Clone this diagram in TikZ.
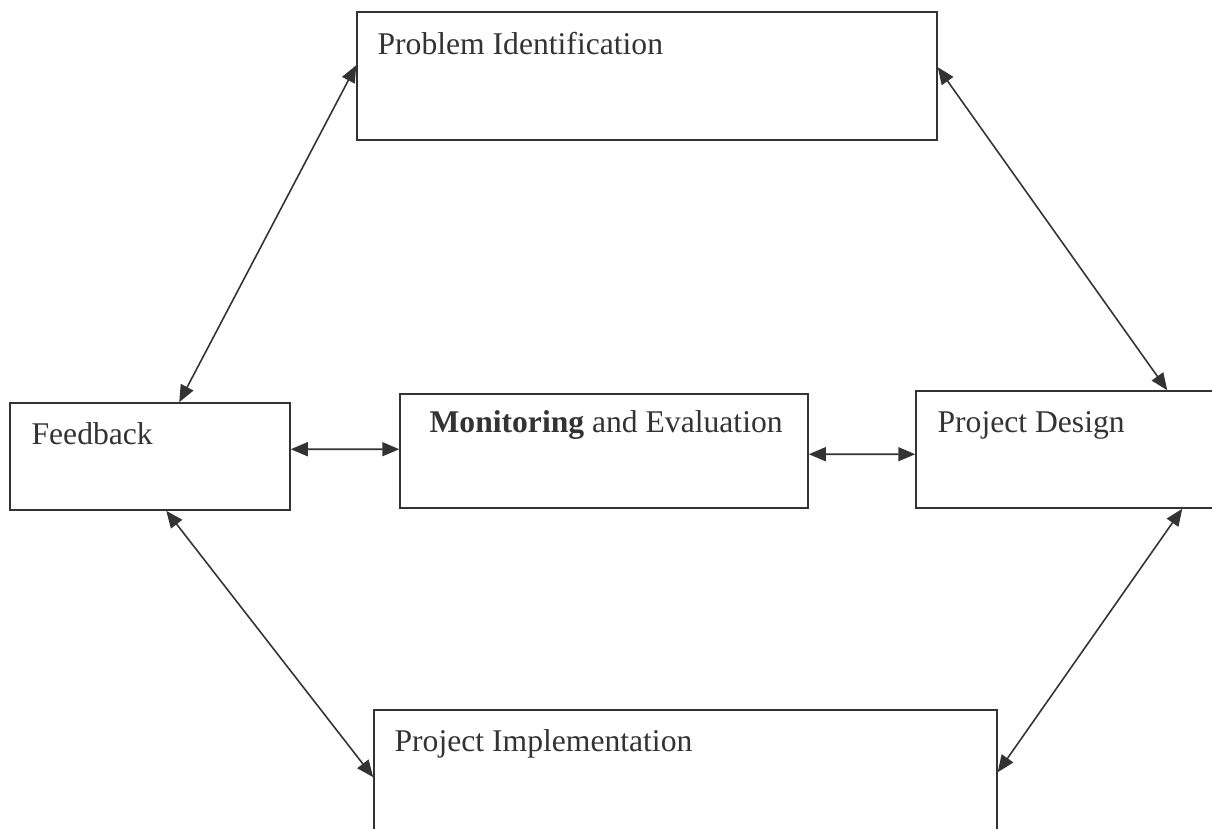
\documentclass[tikz,border=0pt]{standalone}
\usepackage{fontspec}
\setmainfont{Liberation Serif}
\usetikzlibrary{calc,arrows.meta}

\definecolor{inkgray}{HTML}{333333}

\tikzset{
    box/.style={rectangle, draw=inkgray, line width=0.9pt, inner sep=0pt},
    boxtext/.style={anchor=base west, inner sep=0pt, text=inkgray, font=\fontsize{18}{22}\selectfont},
    link/.style={{Triangle[length=0.34cm,width=0.28cm]}-{Triangle[length=0.34cm,width=0.28cm]}, draw=inkgray, line width=0.9pt}
}

\begin{document}
\begin{tikzpicture}[x=0.02cm, y=-0.02cm]
        \useasboundingbox (0, 0) rectangle (1212, 828);
        \clip (0, 0) rectangle (1212, 828);

        % the five stages
        \draw (647, 76) node[box, minimum width=11.6cm, minimum height=2.56cm] (prob) {};
        \draw (150, 456.5) node[box, minimum width=5.6cm, minimum height=2.14cm] (fb) {};
        \draw (604, 451) node[box, minimum width=8.16cm, minimum height=2.28cm] (me) {};
        \draw (1068, 449.5) node[box, minimum width=6.08cm, minimum height=2.34cm] (pd) {};
        \draw (685.5, 795) node[box, minimum width=12.46cm, minimum height=3.4cm] (impl) {};

        % labels, top left in each box
        \node[boxtext] at ($(prob.north west)+(21, 43)$) (probtext) {Problem Identification};
        \node[boxtext] at ($(fb.north west)+(22, 42)$) (fbtext) {Feedback};
        \node[boxtext] at ($(me.north west)+(30, 39)$) (metext) {\textbf{Monitoring} and Evaluation};
        \node[boxtext] at ($(pd.north west)+(22, 42)$) (pdtext) {Project Design};
        \node[boxtext] at ($(impl.north west)+(21, 42)$) (impltext) {Project Implementation};

        % two-way links
        \draw [link] ($(prob.north west)+(0, 54)$) to ($(fb.north west)+(170, 0)$);
        \draw [link] ($(prob.north east)+(0, 56)$) to ($(pd.north west)+(252, 0)$);
        \draw [link] ($(fb.north east)+(0, 47)$) to ($(me.north west)+(0, 56)$);
        \draw [link] ($(me.north east)+(0, 61)$) to ($(pd.north west)+(0, 64)$);
        \draw [link] ($(fb.south west)+(157, 0)$) to ($(impl.north west)+(0, 68)$);
        \draw [link] ($(pd.south west)+(267, 0)$) to ($(impl.north east)+(0, 63)$);
\end{tikzpicture}
\end{document}
